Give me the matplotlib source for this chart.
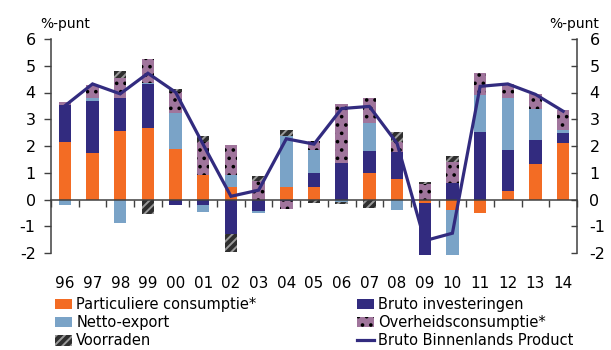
import matplotlib
matplotlib.use("Agg")
import matplotlib.pyplot as plt
import matplotlib.transforms as mtransforms
from matplotlib.patches import Patch
from matplotlib.lines import Line2D
import numpy as np

plt.rcParams["font.family"] = ["DejaVu Sans"]
plt.rcParams["axes.unicode_minus"] = False
plt.rcParams["hatch.linewidth"] = 1.4

# Contributions to GDP growth (%-punt), 1996-2014
years = ["96", "97", "98", "99", "00", "01", "02", "03", "04", "05",
         "06", "07", "08", "09", "10", "11", "12", "13", "14"]
particuliere = [2.15, 1.74, 2.56, 2.67, 1.89, 0.90, 0.48, -0.03, 0.48, 0.48,
                0.00, 1.00, 0.78, -0.14, -0.41, -0.52, 0.33, 1.33, 2.11]
investeringen = [1.37, 1.93, 1.22, 1.63, -0.19, -0.19, -1.30, -0.40, -0.04, 0.52,
                 1.36, 0.81, 1.00, -1.93, 0.63, 2.52, 1.52, 0.89, 0.37]
netto_export = [-0.19, 0.11, -0.89, 0.05, 1.33, -0.26, 0.45, -0.08, 1.89, 0.86,
                -0.08, 1.04, -0.41, 0.00, -1.66, 1.38, 1.96, 1.15, 0.11]
overheid = [0.11, 0.50, 0.78, 0.91, 0.80, 1.24, 1.11, 0.68, -0.33, 0.33,
            2.20, 0.93, 0.37, 0.59, 0.78, 0.84, 0.52, 0.59, 0.74]
voorraden = [0.00, 0.00, 0.26, -0.56, 0.12, 0.23, -0.65, 0.21, 0.22, -0.14,
             -0.08, -0.33, 0.37, 0.07, 0.22, 0.00, 0.00, 0.00, 0.00]
bbp = [3.50, 4.32, 3.95, 4.72, 4.01, 2.05, 0.12, 0.35, 2.27, 2.07,
       3.40, 3.48, 2.10, -1.54, -1.26, 4.23, 4.32, 3.93, 3.30]

ORANGE = "#F36C24"
NAVY = "#322B7F"
LIGHTBLUE = "#7AA3C7"
PURPLE = "#A0759C"
DARK = "#2E2E2E"
AXIS = "#404040"

series = [
    ("Particuliere consumptie*", particuliere, dict(facecolor=ORANGE, edgecolor=ORANGE)),
    ("Bruto investeringen", investeringen, dict(facecolor=NAVY, edgecolor=NAVY)),
    ("Netto-export", netto_export, dict(facecolor=LIGHTBLUE, edgecolor=LIGHTBLUE)),
    ("Overheidsconsumptie*", overheid, dict(facecolor=PURPLE, edgecolor="black", hatch="..")),
    ("Voorraden", voorraden, dict(facecolor=DARK, edgecolor="#9A9A9A", hatch="////")),
]

W, H = 611, 350
fig = plt.figure(figsize=(W / 100, H / 100), dpi=100)
ax = fig.add_axes([51 / W, 1 - 253 / H, 526 / W, 214 / H])

x = np.arange(len(years))
pos_base = np.zeros(len(years))
neg_base = np.zeros(len(years))
for name, vals, style in series:
    v = np.asarray(vals)
    base = np.where(v >= 0, pos_base, neg_base)
    ax.bar(x, v, bottom=base, width=0.45, linewidth=0, zorder=2,
           clip_on=False, **style)
    pos_base = pos_base + np.where(v >= 0, v, 0)
    neg_base = neg_base + np.where(v < 0, v, 0)

ax.plot(x, bbp, color=NAVY, linewidth=2.3, zorder=4, solid_joinstyle="miter")

ax.set_xlim(-0.5, len(years) - 0.5)
ax.set_ylim(-2, 6)
ax.set_yticks(range(-2, 7))
ax.tick_params(axis="y", direction="out", length=5, width=1, colors=AXIS,
               labelcolor="black", labelsize=11.5, pad=6)

for s in ["top", "right"]:
    ax.spines[s].set_visible(False)
ax.spines["left"].set_color(AXIS)
ax.spines["left"].set_linewidth(1.1)
ax.spines["bottom"].set_position(("data", 0))
ax.spines["bottom"].set_color(AXIS)
ax.spines["bottom"].set_linewidth(1.1)
ax.spines["bottom"].set_zorder(3)

ax.set_xticks([])
ax.set_xticks(np.arange(-0.5, len(years), 1), minor=True)
ax.tick_params(axis="x", which="minor", direction="out", length=5, width=1,
               colors=AXIS, labelbottom=False)

trans = mtransforms.blended_transform_factory(ax.transData, ax.transAxes)
for i, lab in enumerate(years):
    ax.text(i, -0.1636, lab, transform=trans, ha="center", va="baseline",
            fontsize=11)

ax2 = ax.twinx()
ax2.set_ylim(-2, 6)
ax2.set_yticks(range(-2, 7))
for s in ["top", "left", "bottom"]:
    ax2.spines[s].set_visible(False)
ax2.spines["right"].set_color(AXIS)
ax2.spines["right"].set_linewidth(1.1)
ax2.tick_params(axis="y", direction="in", length=4, width=1, colors=AXIS,
                labelcolor="black", labelsize=11.5, pad=9)

fig.text(40 / W, 1 - 28 / H, "%-punt", fontsize=10, va="baseline", ha="left")
fig.text(549 / W, 1 - 28 / H, "%-punt", fontsize=10, va="baseline", ha="left")

handles = {name: Patch(linewidth=0, **style) for name, _, style in series}
line_handle = Line2D([], [], color=NAVY, linewidth=2.3)

leg_kw = dict(frameon=False, fontsize=10.5, handlelength=1.15, handleheight=0.75,
              handletextpad=0.3, labelspacing=0.22, borderpad=0, borderaxespad=0,
              loc="upper left")
leg1 = fig.legend([handles["Particuliere consumptie*"], handles["Netto-export"],
                   handles["Voorraden"]],
                  ["Particuliere consumptie*", "Netto-export", "Voorraden"],
                  bbox_to_anchor=(55 / W, 1 - 297 / H), **leg_kw)
leg2 = fig.legend([handles["Bruto investeringen"], handles["Overheidsconsumptie*"],
                   line_handle],
                  ["Bruto investeringen", "Overheidsconsumptie*",
                   "Bruto Binnenlands Product"],
                  bbox_to_anchor=(357 / W, 1 - 297 / H), **leg_kw)

fig.savefig("out.png", dpi=100)
